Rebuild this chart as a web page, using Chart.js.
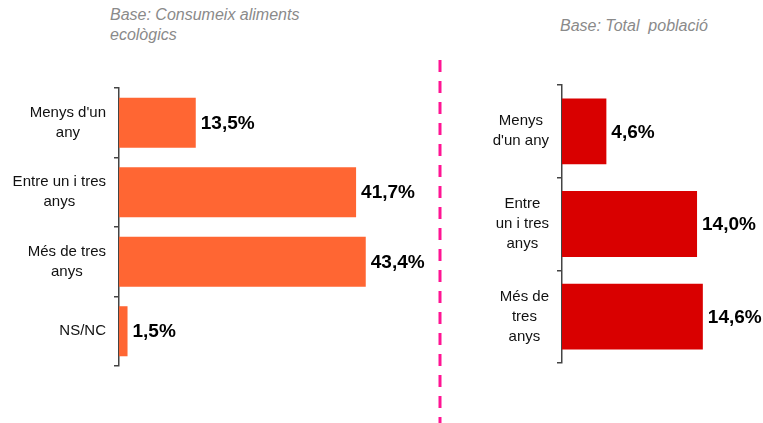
<!DOCTYPE html>
<html>
<head>
<meta charset="utf-8">
<script src="https://cdn.jsdelivr.net/npm/chart.js@4/dist/chart.umd.min.js"></script>
<style>
    body { margin: 0; background: #fff; width: 763px; height: 423px; overflow: hidden; position: relative; }
    canvas { position: absolute; top: 0; }
    .base { position: absolute; font: italic 16px "Liberation Sans", Arial, sans-serif; color: #8a8a8a; line-height: 20px; }
</style>
</head>
<body>
<div class="base" style="left:110px; top:5px;">Base: Consumeix aliments<br>ecològics</div>
<div class="base" style="left:560px; top:16px; white-space:pre;">Base: Total  població</div>
<canvas id="left-chart" width="440" height="423" style="left:0"></canvas>
<canvas id="right-chart" width="333" height="423" style="left:430px"></canvas>
<script>
// consumers of ecological food
const leftLabels = [["Menys d'un", "any"], ["Entre un i tres", "anys"], ["Més de tres", "anys"], ["NS/NC"]];
const leftValues = [13.5, 41.7, 43.4, 1.5];
// total population
const rightLabels = [["Menys", "d'un any"], ["Entre", "un i tres", "anys"], ["Més de", "tres", "anys"]];
const rightValues = [4.6, 14.0, 14.6];

const labelFont = '15px "Liberation Sans", Arial, sans-serif';
const valueFont = 'bold 19px "Liberation Sans", Arial, sans-serif';

function fmt(v) {
    return v.toFixed(1).replace('.', ',') + '%';
}

// category labels (right aligned block, centred lines) + value labels
const barText = {
    id: 'barText',
    afterDraw(chart) {
        const ctx = chart.ctx;
        const yScale = chart.scales.y;
        const left = chart.chartArea.left;
        ctx.save();
        ctx.textBaseline = 'middle';
        chart.data.labels.forEach(function(lines, i) {
            const cy = yScale.getPixelForValue(i);
            ctx.font = labelFont;
            ctx.fillStyle = '#111';
            ctx.textAlign = 'center';
            const widest = Math.max(...lines.map(l => ctx.measureText(l).width));
            const cx = left - 13 - widest / 2;
            lines.forEach(function(line, j) {
                ctx.fillText(line, cx, cy + (j - (lines.length - 1) / 2) * 20);
            });
        });
        const meta = chart.getDatasetMeta(0);
        ctx.font = valueFont;
        ctx.fillStyle = '#000';
        ctx.textAlign = 'left';
        meta.data.forEach(function(bar, i) {
            ctx.fillText(fmt(chart.data.datasets[0].data[i]), bar.x + 5, bar.y + 1);
        });
        ctx.restore();
    }
};

// pink dashed separator between the two panels
const separator = {
    id: 'separator',
    afterDraw(chart) {
        const ctx = chart.ctx;
        ctx.save();
        ctx.strokeStyle = '#ff1493';
        ctx.lineWidth = 3;
        ctx.setLineDash([12, 9]);
        ctx.beginPath();
        ctx.moveTo(10, 60);
        ctx.lineTo(10, 423);
        ctx.stroke();
        ctx.restore();
    }
};

function makeChart(id, labels, values, color, max, padding, catPct, extra) {
    return new Chart(document.getElementById(id), {
        type: 'bar',
        data: {
            labels: labels,
            datasets: [{ data: values, backgroundColor: color, categoryPercentage: catPct, barPercentage: 1 }]
        },
        options: {
            indexAxis: 'y',
            responsive: false,
            animation: false,
            layout: { padding: padding },
            plugins: { legend: { display: false }, tooltip: { enabled: false } },
            scales: {
                x: { display: false, min: 0, max: max },
                y: {
                    grid: { drawOnChartArea: false, tickLength: 5, color: '#444', lineWidth: 1.5 },
                    border: { color: '#444', width: 1.5 },
                    ticks: { display: false },
                    afterFit: function(s) { s.width = 6; }
                }
            }
        },
        plugins: [barText].concat(extra)
    });
}

makeChart('left-chart', leftLabels, leftValues, '#ff6633', 49.6,
    { left: 113, right: 39, top: 88, bottom: 57 }, 0.72, []);
makeChart('right-chart', rightLabels, rightValues, '#d90000', 19.8,
    { left: 126, right: 10, top: 85, bottom: 60 }, 0.71, [separator]);
</script>
</body>
</html>
